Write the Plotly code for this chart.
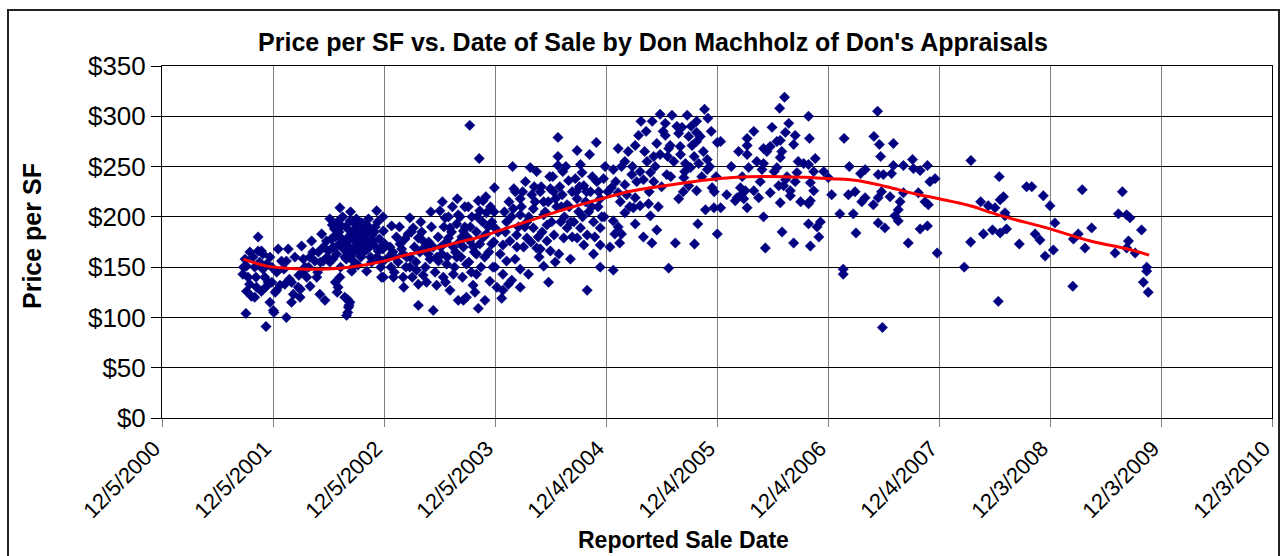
import plotly.graph_objects as go

# ---------------- data ----------------
sales_2001 = [
    ("2001-08-28", 143), ("2001-08-30", 150), ("2001-09-04", 158), ("2001-09-07", 104),
    ("2001-09-09", 151), ("2001-09-09", 126), ("2001-09-14", 140), ("2001-09-19", 133),
    ("2001-09-20", 165), ("2001-09-25", 121), ("2001-09-30", 160), ("2001-10-06", 120),
    ("2001-10-06", 150), ("2001-10-10", 140), ("2001-10-12", 130), ("2001-10-17", 166),
    ("2001-10-17", 180), ("2001-10-22", 155), ("2001-10-28", 166), ("2001-10-28", 126),
    ("2001-11-02", 163), ("2001-11-02", 148), ("2001-11-08", 140), ("2001-11-12", 91),
    ("2001-11-14", 131), ("2001-11-14", 153), ("2001-11-19", 135), ("2001-11-25", 115),
    ("2001-11-25", 160), ("2001-12-01", 135), ("2001-12-01", 150), ("2001-12-06", 107),
    ("2001-12-08", 105), ("2001-12-12", 125), ("2001-12-17", 145), ("2001-12-17", 127),
    ("2001-12-22", 168), ("2001-12-28", 132),
]

sales_2002 = [
    ("2002-01-02", 156), ("2002-01-10", 148), ("2002-01-13", 133), ("2002-01-18", 156),
    ("2002-01-18", 100), ("2002-01-24", 168), ("2002-01-28", 138), ("2002-02-04", 135),
    ("2002-02-04", 115), ("2002-02-10", 123), ("2002-02-15", 160), ("2002-02-26", 130),
    ("2002-02-28", 142), ("2002-03-04", 120), ("2002-03-05", 128), ("2002-03-09", 171),
    ("2002-03-12", 145), ("2002-03-15", 158), ("2002-03-20", 150), ("2002-03-26", 140),
    ("2002-04-01", 150), ("2002-04-05", 160), ("2002-04-06", 131), ("2002-04-11", 176),
    ("2002-04-15", 165), ("2002-04-22", 156), ("2002-04-28", 140), ("2002-05-01", 145),
    ("2002-05-03", 165), ("2002-05-08", 123), ("2002-05-10", 155), ("2002-05-14", 183),
    ("2002-05-19", 156), ("2002-05-20", 170), ("2002-05-25", 117), ("2002-05-30", 176),
    ("2002-06-01", 160), ("2002-06-05", 166), ("2002-06-10", 198), ("2002-06-10", 155),
    ("2002-06-15", 178), ("2002-06-18", 192), ("2002-06-20", 158), ("2002-06-21", 170),
    ("2002-06-25", 188), ("2002-06-28", 135), ("2002-06-28", 180), ("2002-07-02", 183),
    ("2002-07-02", 163), ("2002-07-04", 125), ("2002-07-05", 195), ("2002-07-07", 130),
    ("2002-07-08", 172), ("2002-07-10", 185), ("2002-07-13", 209), ("2002-07-13", 140),
    ("2002-07-15", 150), ("2002-07-18", 191), ("2002-07-20", 178), ("2002-07-22", 200),
    ("2002-07-24", 173), ("2002-07-25", 168), ("2002-07-29", 160), ("2002-07-29", 120),
    ("2002-08-01", 190), ("2002-08-03", 158), ("2002-08-04", 166), ("2002-08-04", 102),
    ("2002-08-06", 175), ("2002-08-07", 118), ("2002-08-08", 105), ("2002-08-10", 110),
    ("2002-08-10", 180), ("2002-08-12", 170), ("2002-08-12", 112), ("2002-08-15", 115),
    ("2002-08-15", 196), ("2002-08-17", 205), ("2002-08-18", 185), ("2002-08-21", 146),
    ("2002-08-22", 162), ("2002-08-25", 150), ("2002-08-26", 156), ("2002-08-28", 178),
    ("2002-08-30", 168), ("2002-09-01", 188), ("2002-09-03", 192), ("2002-09-05", 198),
    ("2002-09-06", 173), ("2002-09-08", 182), ("2002-09-10", 152), ("2002-09-12", 166),
    ("2002-09-15", 175), ("2002-09-17", 185), ("2002-09-20", 160), ("2002-09-23", 194),
    ("2002-09-25", 170), ("2002-09-28", 183), ("2002-09-30", 178), ("2002-10-01", 190),
    ("2002-10-03", 166), ("2002-10-06", 178), ("2002-10-09", 146), ("2002-10-10", 192),
    ("2002-10-12", 168), ("2002-10-15", 198), ("2002-10-18", 172), ("2002-10-20", 186),
    ("2002-10-22", 160), ("2002-10-25", 155), ("2002-10-27", 182), ("2002-10-31", 176),
    ("2002-11-02", 172), ("2002-11-03", 185), ("2002-11-06", 190), ("2002-11-11", 206),
    ("2002-11-12", 160), ("2002-11-14", 195), ("2002-11-16", 166), ("2002-11-20", 178),
    ("2002-11-22", 168), ("2002-11-24", 150), ("2002-11-27", 140), ("2002-11-27", 156),
    ("2002-12-01", 168), ("2002-12-02", 200), ("2002-12-03", 186),
]

sales_2003 = [
    ("2002-12-03", 156), ("2002-12-03", 140), ("2002-12-08", 173), ("2002-12-20", 160),
    ("2002-12-25", 170), ("2002-12-28", 150), ("2002-12-30", 191), ("2003-01-03", 165),
    ("2003-01-05", 140), ("2003-01-08", 145), ("2003-01-10", 160), ("2003-01-15", 180),
    ("2003-01-20", 155), ("2003-01-25", 190), ("2003-01-27", 173), ("2003-02-01", 168),
    ("2003-02-06", 163), ("2003-02-06", 140), ("2003-02-08", 130), ("2003-02-12", 178),
    ("2003-02-15", 150), ("2003-02-18", 160), ("2003-02-22", 183), ("2003-02-28", 199),
    ("2003-02-28", 150), ("2003-03-01", 160), ("2003-03-05", 185), ("2003-03-08", 140),
    ("2003-03-11", 189), ("2003-03-15", 170), ("2003-03-20", 155), ("2003-03-22", 147),
    ("2003-03-28", 179), ("2003-03-28", 133), ("2003-03-28", 112), ("2003-04-02", 165),
    ("2003-04-05", 195), ("2003-04-08", 185), ("2003-04-13", 176), ("2003-04-13", 142),
    ("2003-04-18", 170), ("2003-04-20", 150), ("2003-04-24", 135), ("2003-04-30", 163),
    ("2003-05-01", 175), ("2003-05-05", 158), ("2003-05-08", 205), ("2003-05-10", 190),
    ("2003-05-16", 170), ("2003-05-16", 107), ("2003-05-22", 145), ("2003-05-27", 132),
    ("2003-05-28", 160), ("2003-06-01", 180), ("2003-06-02", 156), ("2003-06-07", 206),
    ("2003-06-10", 170), ("2003-06-13", 163), ("2003-06-15", 215), ("2003-06-18", 140),
    ("2003-06-20", 190), ("2003-06-24", 199), ("2003-06-25", 135), ("2003-06-28", 175),
    ("2003-06-29", 153), ("2003-07-01", 160), ("2003-07-05", 200), ("2003-07-05", 179),
    ("2003-07-10", 189), ("2003-07-10", 127), ("2003-07-15", 185), ("2003-07-18", 210),
    ("2003-07-21", 143), ("2003-07-21", 170), ("2003-07-25", 150), ("2003-07-28", 165),
    ("2003-08-01", 193), ("2003-08-01", 160), ("2003-08-03", 218), ("2003-08-06", 202),
    ("2003-08-06", 117), ("2003-08-10", 175), ("2003-08-12", 200), ("2003-08-15", 160),
    ("2003-08-18", 180), ("2003-08-20", 140), ("2003-08-23", 186), ("2003-08-23", 170),
    ("2003-08-23", 117), ("2003-08-28", 210), ("2003-08-28", 190), ("2003-09-02", 120),
    ("2003-09-02", 153), ("2003-09-05", 180), ("2003-09-08", 210), ("2003-09-10", 155),
    ("2003-09-13", 291), ("2003-09-13", 176), ("2003-09-15", 190), ("2003-09-18", 145),
    ("2003-09-20", 200), ("2003-09-24", 132), ("2003-09-25", 170), ("2003-09-28", 165),
    ("2003-09-30", 125), ("2003-10-05", 163), ("2003-10-05", 185), ("2003-10-05", 143),
    ("2003-10-08", 200), ("2003-10-11", 216), ("2003-10-11", 109), ("2003-10-14", 258),
    ("2003-10-16", 206), ("2003-10-16", 173), ("2003-10-20", 150), ("2003-10-25", 195),
    ("2003-10-27", 216), ("2003-10-28", 180), ("2003-11-01", 160), ("2003-11-02", 117),
    ("2003-11-05", 220), ("2003-11-07", 204), ("2003-11-07", 183), ("2003-11-12", 190),
    ("2003-11-15", 165), ("2003-11-18", 136), ("2003-11-20", 210), ("2003-11-24", 173),
    ("2003-11-25", 195), ("2003-11-28", 150), ("2003-12-01", 175), ("2003-12-02", 205),
    ("2003-12-03", 229), ("2003-12-05", 189), ("2003-12-05", 150), ("2003-12-11", 130),
    ("2003-12-15", 185), ("2003-12-22", 163),
]

sales_2004 = [
    ("2003-12-27", 119), ("2003-12-31", 172), ("2003-12-31", 143), ("2003-12-31", 127),
    ("2004-01-05", 205), ("2004-01-08", 185), ("2004-01-12", 195), ("2004-01-12", 156),
    ("2004-01-18", 133), ("2004-01-20", 215), ("2004-01-23", 176), ("2004-01-28", 200),
    ("2004-01-29", 137), ("2004-02-01", 250), ("2004-02-03", 208), ("2004-02-05", 228),
    ("2004-02-09", 158), ("2004-02-10", 225), ("2004-02-14", 182), ("2004-02-15", 170),
    ("2004-02-20", 190), ("2004-02-26", 202), ("2004-02-26", 148), ("2004-02-26", 130),
    ("2004-02-26", 218), ("2004-03-01", 210), ("2004-03-05", 225), ("2004-03-08", 170),
    ("2004-03-12", 190), ("2004-03-14", 235), ("2004-03-19", 195), ("2004-03-19", 179),
    ("2004-03-24", 143), ("2004-03-25", 200), ("2004-03-30", 249), ("2004-04-01", 175),
    ("2004-04-04", 222), ("2004-04-09", 189), ("2004-04-09", 208), ("2004-04-12", 230),
    ("2004-04-15", 215), ("2004-04-20", 169), ("2004-04-20", 245), ("2004-04-25", 180),
    ("2004-04-28", 160), ("2004-05-02", 225), ("2004-05-02", 168), ("2004-05-05", 230),
    ("2004-05-08", 185), ("2004-05-13", 202), ("2004-05-13", 215), ("2004-05-13", 151),
    ("2004-05-18", 205), ("2004-05-24", 192), ("2004-05-24", 176), ("2004-05-28", 215),
    ("2004-05-29", 135), ("2004-06-02", 240), ("2004-06-04", 228), ("2004-06-04", 166),
    ("2004-06-08", 195), ("2004-06-12", 240), ("2004-06-15", 225), ("2004-06-16", 182),
    ("2004-06-20", 155), ("2004-06-21", 218), ("2004-06-25", 210), ("2004-06-29", 279),
    ("2004-06-29", 260), ("2004-06-29", 251), ("2004-07-02", 163), ("2004-07-05", 230),
    ("2004-07-08", 195), ("2004-07-10", 210), ("2004-07-13", 222), ("2004-07-15", 245),
    ("2004-07-18", 179), ("2004-07-20", 200), ("2004-07-25", 250), ("2004-07-29", 212),
    ("2004-07-29", 189), ("2004-08-03", 236), ("2004-08-05", 210), ("2004-08-09", 158),
    ("2004-08-10", 195), ("2004-08-15", 225), ("2004-08-15", 180), ("2004-08-20", 195),
    ("2004-08-25", 238), ("2004-08-28", 225), ("2004-08-31", 266), ("2004-08-31", 218),
    ("2004-08-31", 179), ("2004-09-05", 205), ("2004-09-08", 230), ("2004-09-11", 252),
    ("2004-09-11", 189), ("2004-09-16", 244), ("2004-09-18", 200), ("2004-09-22", 231),
    ("2004-09-22", 172), ("2004-09-28", 215), ("2004-10-01", 225), ("2004-10-03", 182),
    ("2004-10-03", 127), ("2004-10-08", 205), ("2004-10-11", 262), ("2004-10-14", 225),
    ("2004-10-18", 210), ("2004-10-20", 240), ("2004-10-24", 195), ("2004-10-24", 163),
    ("2004-10-28", 180), ("2004-11-02", 274), ("2004-11-04", 235), ("2004-11-08", 210),
    ("2004-11-10", 225), ("2004-11-15", 218), ("2004-11-15", 189), ("2004-11-15", 172),
    ("2004-11-15", 150), ("2004-11-20", 200), ("2004-11-26", 238), ("2004-11-28", 200),
    ("2004-12-01", 250), ("2004-12-10", 225),
]

sales_2005 = [
    ("2004-12-17", 170), ("2004-12-22", 229), ("2004-12-28", 247), ("2004-12-28", 196),
    ("2004-12-28", 147), ("2005-01-02", 183), ("2005-01-05", 235), ("2005-01-13", 268),
    ("2005-01-13", 224), ("2005-01-13", 190), ("2005-01-18", 174), ("2005-01-20", 215),
    ("2005-01-24", 250), ("2005-01-24", 183), ("2005-02-04", 255), ("2005-02-04", 232),
    ("2005-02-04", 204), ("2005-02-10", 222), ("2005-02-15", 265), ("2005-02-20", 210),
    ("2005-02-27", 242), ("2005-03-01", 250), ("2005-03-04", 209), ("2005-03-10", 271),
    ("2005-03-10", 219), ("2005-03-10", 193), ("2005-03-15", 235), ("2005-03-21", 281),
    ("2005-03-26", 245), ("2005-03-26", 211), ("2005-03-29", 295), ("2005-04-06", 237),
    ("2005-04-06", 180), ("2005-04-10", 265), ("2005-04-15", 285), ("2005-04-18", 255),
    ("2005-04-23", 213), ("2005-04-25", 225), ("2005-04-29", 244), ("2005-04-29", 201),
    ("2005-05-04", 174), ("2005-05-05", 295), ("2005-05-10", 260), ("2005-05-10", 235),
    ("2005-05-15", 250), ("2005-05-20", 273), ("2005-05-20", 187), ("2005-05-25", 210),
    ("2005-05-31", 302), ("2005-05-31", 262), ("2005-06-05", 230), ("2005-06-10", 285),
    ("2005-06-17", 293), ("2005-06-17", 281), ("2005-06-22", 242), ("2005-06-25", 260),
    ("2005-06-28", 268), ("2005-06-28", 149), ("2005-07-03", 271), ("2005-07-05", 240),
    ("2005-07-09", 301), ("2005-07-15", 255), ("2005-07-20", 174), ("2005-07-25", 290),
    ("2005-07-31", 283), ("2005-07-31", 218), ("2005-08-05", 270), ("2005-08-06", 262),
    ("2005-08-11", 289), ("2005-08-15", 225), ("2005-08-17", 239), ("2005-08-20", 245),
    ("2005-08-22", 253), ("2005-08-28", 301), ("2005-09-02", 280), ("2005-09-02", 231),
    ("2005-09-08", 249), ("2005-09-10", 290), ("2005-09-13", 271), ("2005-09-20", 260),
    ("2005-09-21", 173), ("2005-09-28", 295), ("2005-09-28", 284), ("2005-09-28", 275),
    ("2005-09-28", 226), ("2005-10-02", 193), ("2005-10-05", 253), ("2005-10-10", 280),
    ("2005-10-15", 240), ("2005-10-20", 265), ("2005-10-24", 307), ("2005-10-27", 207),
    ("2005-11-02", 257), ("2005-11-02", 247), ("2005-11-04", 298), ("2005-11-10", 250),
    ("2005-11-15", 285), ("2005-11-18", 229), ("2005-11-24", 209), ("2005-11-25", 225),
    ("2005-12-01", 240), ("2005-12-05", 274), ("2005-12-05", 183), ("2005-12-16", 275),
    ("2005-12-16", 209),
]

sales_2006 = [
    ("2006-01-05", 222), ("2006-01-20", 250), ("2006-02-02", 216), ("2006-02-08", 219),
    ("2006-02-13", 265), ("2006-02-19", 229), ("2006-02-19", 221), ("2006-02-25", 240),
    ("2006-03-02", 218), ("2006-03-07", 226), ("2006-03-13", 278), ("2006-03-13", 271),
    ("2006-03-13", 262), ("2006-03-13", 209), ("2006-03-18", 249), ("2006-04-04", 285),
    ("2006-04-04", 226), ("2006-04-14", 255), ("2006-04-20", 219), ("2006-04-25", 235),
    ("2006-05-01", 247), ("2006-05-06", 268), ("2006-05-06", 253), ("2006-05-06", 200),
    ("2006-05-12", 169), ("2006-05-17", 265), ("2006-05-28", 270), ("2006-05-28", 224),
    ("2006-06-03", 289), ("2006-06-10", 245), ("2006-06-19", 275), ("2006-06-19", 249),
    ("2006-06-25", 231), ("2006-06-28", 308), ("2006-06-30", 276), ("2006-06-30", 259),
    ("2006-06-30", 214), ("2006-07-05", 265), ("2006-07-06", 185), ("2006-07-11", 231),
    ("2006-07-14", 319), ("2006-07-17", 284), ("2006-07-17", 237), ("2006-07-22", 240),
    ("2006-07-28", 293), ("2006-08-02", 226), ("2006-08-02", 221), ("2006-08-13", 272),
    ("2006-08-13", 174), ("2006-08-18", 281), ("2006-08-18", 235), ("2006-08-24", 244),
    ("2006-08-28", 255), ("2006-09-05", 215), ("2006-09-15", 253), ("2006-10-01", 300),
    ("2006-10-01", 252), ("2006-10-01", 213), ("2006-10-01", 193), ("2006-10-04", 278),
    ("2006-10-07", 234), ("2006-10-07", 216), ("2006-10-07", 171), ("2006-10-18", 245),
    ("2006-10-18", 226), ("2006-10-23", 258), ("2006-10-29", 190), ("2006-11-04", 180),
    ("2006-11-09", 195), ("2006-11-20", 245), ("2006-12-05", 239), ("2006-12-16", 222),
]

sales_2007 = [
    ("2007-01-12", 203), ("2007-01-23", 148), ("2007-01-23", 143), ("2007-01-26", 278),
    ("2007-02-09", 222), ("2007-02-12", 250), ("2007-02-25", 203), ("2007-03-03", 225),
    ("2007-03-06", 184), ("2007-03-21", 243), ("2007-03-25", 215), ("2007-04-05", 247),
    ("2007-04-05", 219), ("2007-05-02", 212), ("2007-05-04", 280), ("2007-05-16", 305),
    ("2007-05-18", 242), ("2007-05-18", 219), ("2007-05-18", 194), ("2007-05-22", 272),
    ("2007-05-26", 260), ("2007-05-29", 225), ("2007-06-01", 90), ("2007-06-04", 242),
    ("2007-06-09", 189), ("2007-06-26", 220), ("2007-07-01", 243), ("2007-07-07", 273),
    ("2007-07-07", 251), ("2007-07-12", 201), ("2007-07-23", 207), ("2007-07-23", 196),
    ("2007-07-29", 215), ("2007-08-09", 251), ("2007-08-09", 224), ("2007-08-25", 174),
    ("2007-09-08", 257), ("2007-09-11", 248), ("2007-09-27", 224), ("2007-10-03", 246),
    ("2007-10-03", 188), ("2007-10-19", 215), ("2007-10-27", 251), ("2007-10-27", 191),
    ("2007-10-30", 212), ("2007-11-04", 235), ("2007-11-21", 238), ("2007-11-28", 164),
]

sales_2008_09 = [
    ("2008-02-25", 150), ("2008-03-17", 175), ("2008-03-18", 256), ("2008-04-19", 215),
    ("2008-04-28", 183), ("2008-05-14", 211), ("2008-05-28", 187), ("2008-06-05", 209),
    ("2008-06-16", 116), ("2008-06-19", 240), ("2008-06-22", 217), ("2008-06-22", 184),
    ("2008-07-03", 220), ("2008-07-08", 204), ("2008-07-08", 201), ("2008-07-13", 188),
    ("2008-08-24", 173), ("2008-09-17", 230), ("2008-10-04", 230), ("2008-10-15", 183),
    ("2008-10-31", 177), ("2008-11-11", 221), ("2008-11-17", 161), ("2008-12-03", 211),
    ("2008-12-14", 167), ("2008-12-19", 194), ("2009-02-16", 131), ("2009-02-18", 178),
    ("2009-03-06", 183), ("2009-03-19", 227), ("2009-03-28", 169), ("2009-04-19", 189),
    ("2009-07-05", 164), ("2009-07-16", 203), ("2009-07-29", 225), ("2009-08-12", 202),
    ("2009-08-12", 169), ("2009-08-18", 176), ("2009-08-23", 199), ("2009-09-09", 164),
    ("2009-09-30", 187), ("2009-10-06", 135), ("2009-10-17", 150), ("2009-10-17", 146),
    ("2009-10-22", 125),
]

# polynomial trend line
trend_dates = ["2001-08-30", "2001-11-15", "2002-02-15", "2002-05-15", "2002-08-15",
               "2002-12-05", "2003-02-15", "2003-05-15", "2003-07-15", "2003-10-15",
               "2004-01-15", "2004-04-15", "2004-07-15", "2004-10-15", "2005-02-15",
               "2005-06-15", "2005-09-15", "2005-12-04", "2006-03-15", "2006-07-15",
               "2006-10-15", "2006-12-15", "2007-03-15", "2007-06-15", "2007-09-15",
               "2007-12-04", "2008-03-15", "2008-06-15", "2008-12-03", "2009-04-15",
               "2009-08-15", "2009-10-25"]
trend_values = [158, 151, 148.5, 148, 150, 156, 162, 168, 173, 180,
                189, 198, 207, 215, 225, 231, 235, 238, 240, 240,
                239, 238, 236, 230, 223, 218, 211, 202, 188, 176,
                168, 162]

x_tick_dates = ["2000-12-05", "2001-12-05", "2002-12-05", "2003-12-05", "2004-12-04",
                "2005-12-04", "2006-12-04", "2007-12-04", "2008-12-03", "2009-12-03",
                "2010-12-03"]
x_tick_labels = ["12/5/2000", "12/5/2001", "12/5/2002", "12/5/2003", "12/4/2004",
                 "12/4/2005", "12/4/2006", "12/4/2007", "12/3/2008", "12/3/2009",
                 "12/3/2010"]

# ---------------- figure ----------------
all_sales = (sales_2001 + sales_2002 + sales_2003 + sales_2004 + sales_2005
             + sales_2006 + sales_2007 + sales_2008_09)
sale_dates = [d for d, _ in all_sales]
sale_ppsf = [v for _, v in all_sales]

FONT = "Arial, 'Liberation Sans', sans-serif"

fig = go.Figure()
fig.add_trace(go.Scatter(
    x=sale_dates, y=sale_ppsf, mode="markers",
    marker=dict(symbol="diamond", size=8, color="#000080",
                line=dict(width=0.5, color="#000080")),
    showlegend=False, hoverinfo="x+y"))
fig.add_trace(go.Scatter(
    x=trend_dates, y=trend_values, mode="lines",
    line=dict(color="#FF0000", width=3, shape="spline", smoothing=1.0),
    showlegend=False, hoverinfo="skip"))

W, H = 1282, 556
L, R, T, B = 162, 10, 66, 138
pw, ph = W - L - R, H - T - B

def px_x(p):
    return (p - L) / pw

def px_y(p):
    return (H - B - p) / ph

fig.update_layout(
    width=W, height=H,
    margin=dict(l=L, r=R, t=T, b=B, pad=0, autoexpand=False),
    paper_bgcolor="white", plot_bgcolor="white",
    font=dict(family=FONT, color="black"),
    title=dict(text="<b>Price per SF vs. Date of Sale by Don Machholz of Don's Appraisals</b>",
               x=653 / W, xanchor="center", y=1 - 42 / H, yanchor="middle",
               xref="container", yref="container",
               font=dict(size=25, family=FONT, color="black")),
    xaxis=dict(
        type="date", range=["2000-12-05", "2010-12-03"],
        tickmode="array", tickvals=x_tick_dates, ticktext=x_tick_labels,
        tickangle=-45, tickfont=dict(size=22, family=FONT, color="black"),
        ticklabeloverflow="allow", automargin=False, ticklabelshift=-8,
        showgrid=True, gridcolor="#7f7f7f", gridwidth=1,
        showline=True, linecolor="black", linewidth=1, mirror=True,
        ticks="outside", ticklen=8, tickcolor="#7f7f7f", tickwidth=1,
        zeroline=False, fixedrange=True),
    yaxis=dict(
        range=[0, 350], tickmode="linear", tick0=0, dtick=50, tickprefix="$",
        tickfont=dict(size=26, family=FONT, color="black"),
        automargin=False,
        showgrid=True, gridcolor="black", gridwidth=1,
        showline=True, linecolor="black", linewidth=1, mirror=True,
        ticks="outside", ticklen=10, tickcolor="black", tickwidth=1,
        zeroline=False, fixedrange=True),
    annotations=[
        dict(text="<b>Price per SF</b>", textangle=-90, xref="paper", yref="paper",
             x=px_x(32), y=px_y(236), xanchor="center", yanchor="middle",
             showarrow=False, font=dict(size=25, family=FONT, color="black")),
        dict(text="<b>Reported Sale Date</b>", xref="paper", yref="paper",
             x=px_x(683), y=px_y(540), xanchor="center", yanchor="middle",
             showarrow=False, font=dict(size=23, family=FONT, color="black")),
    ],
    shapes=[
        dict(type="rect", xref="paper", yref="paper",
             x0=px_x(8), x1=px_x(1279), y0=px_y(600), y1=px_y(10),
             line=dict(color="#222222", width=2), layer="below"),
    ],
)

fig.write_html("out.html", config={"displayModeBar": False},
               post_script="document.body.style.margin='0px';document.body.style.overflow='hidden';")
